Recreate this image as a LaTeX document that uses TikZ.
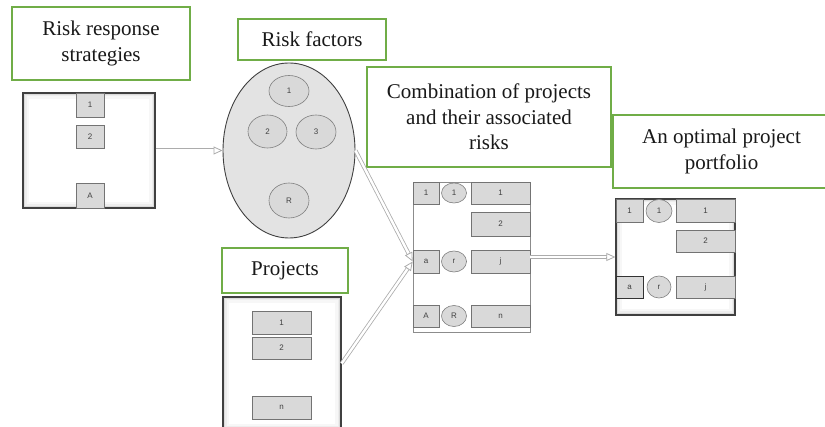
\documentclass[tikz,border=0pt]{standalone}
\usepackage{fontspec}
\setmainfont{Liberation Serif}
\newfontfamily\labfont{Liberation Sans}
\usetikzlibrary{arrows.meta,calc,shapes.geometric}
\definecolor{boxgreen}{HTML}{70AD47}
\newcommand\dblarr[2]{%
  \draw[shaft,shorten >=7pt] (#1) -- (#2);
  \draw[head] ($(#2)!9pt!(#1)$) -- (#2);}
\begin{document}
\begin{tikzpicture}[x=1pt,y=-1pt,
  title/.style={draw=boxgreen, line width=1.5pt, fill=white, align=center,
    font=\fontsize{21}{25.5}\selectfont, text=black!90, inner sep=0pt},
  panel/.style={draw=black!75, line width=1.3pt, fill=white, inner sep=0pt,
    path picture={
      \draw[gray!6,line width=12pt] (path picture bounding box.south west) rectangle (path picture bounding box.north east);
      \draw[gray!14,line width=7pt] (path picture bounding box.south west) rectangle (path picture bounding box.north east);
      \draw[gray!28,line width=4pt] (path picture bounding box.south west) rectangle (path picture bounding box.north east);
      \draw[gray!45,line width=2pt] (path picture bounding box.south west) rectangle (path picture bounding box.north east);}},
  lpanel/.style={draw=black!45, line width=0.8pt, fill=white, inner sep=0pt},
  sbox/.style={draw=black!55, fill=gray!30, line width=0.6pt, inner sep=0pt,
    font=\labfont\fontsize{8}{9}\selectfont, text=black!75},
  scirc/.style={ellipse, draw=black!50, fill=gray!30, line width=0.6pt, inner sep=0pt,
    font=\labfont\fontsize{8}{9}\selectfont, text=black!75},
  shaft/.style={draw=gray!65, double=white, double distance=2.4pt, line width=0.8pt},
  head/.style={draw=gray!65, line width=0.8pt, -{Triangle[open,fill=white,length=9pt,width=8pt]}}
]
\useasboundingbox (0,0) rectangle (825,427);
\clip (0,0) rectangle (825,427);

% titles
\node[title, minimum width=178pt, minimum height=73pt] (trrs) at (101,43.5) {Risk response\\strategies};
\node[title, minimum width=148pt, minimum height=41pt] (trf) at (312,39.5) {Risk factors};
\node[title, minimum width=244pt, minimum height=100pt] (tcmb) at (489,117) {Combination of projects\\and their associated\\risks};
\node[title, minimum width=217pt, minimum height=73pt] (topt) at (721.5,151.5) {An optimal project\\portfolio};
\node[title, minimum width=126pt, minimum height=45pt] (tprj) at (285,270.5) {Projects};

% risk response panel
\node[panel, minimum width=132pt, minimum height=115pt] (rrsP) at (89,150.5) {};
\node[sbox, minimum width=28pt, minimum height=24pt] (r1) at (90,105) {1};
\node[sbox, minimum width=28pt, minimum height=23pt] (r2) at (90,136.5) {2};
\node[sbox, minimum width=28pt, minimum height=25pt] (rA) at (90,195.5) {A};

% risk factors ellipse
\node[ellipse, draw=black!75, fill=gray!22, line width=0.9pt, minimum width=132pt, minimum height=175pt, inner sep=0pt] (rf) at (289,150.5) {};
\node[scirc, minimum width=40pt, minimum height=31pt] (f1) at (289,91) {1};
\node[scirc, minimum width=39pt, minimum height=33pt] (f2) at (267.5,131.5) {2};
\node[scirc, minimum width=40pt, minimum height=34pt] (f3) at (316,132) {3};
\node[scirc, minimum width=40pt, minimum height=35pt] (fR) at (289,200.5) {R};

% projects panel
\node[panel, minimum width=118pt, minimum height=133pt] (prjP) at (282,363.5) {};
\node[sbox, minimum width=59pt, minimum height=23pt] (p1) at (281.5,322.5) {1};
\node[sbox, minimum width=59pt, minimum height=22pt] (p2) at (281.5,348) {2};
\node[sbox, minimum width=59pt, minimum height=23pt] (pn) at (281.5,407.5) {n};

% combination panel
\node[lpanel, minimum width=117pt, minimum height=150pt] (cmbP) at (471.5,257) {};
\node[sbox, minimum width=26pt, minimum height=22pt] (c11) at (426,193) {1};
\node[scirc, minimum width=25pt, minimum height=20pt] (c12) at (454,193) {1};
\node[sbox, minimum width=59pt, minimum height=22pt] (c13) at (500.5,193) {1};
\node[sbox, minimum width=59pt, minimum height=24pt] (c23) at (500.5,224) {2};
\node[sbox, minimum width=26pt, minimum height=23pt] (ca) at (426,261.5) {a};
\node[scirc, minimum width=25pt, minimum height=21pt] (cr) at (454,261.5) {r};
\node[sbox, minimum width=59pt, minimum height=23pt] (cj) at (500.5,261.5) {j};
\node[sbox, minimum width=26pt, minimum height=22pt] (cA) at (426,316) {A};
\node[scirc, minimum width=25pt, minimum height=21pt] (cR) at (454,316) {R};
\node[sbox, minimum width=59pt, minimum height=22pt] (cn) at (500.5,316) {n};

% optimal panel
\node[panel, minimum width=119pt, minimum height=116pt] (optP) at (675.5,257) {};
\node[sbox, minimum width=27pt, minimum height=23pt] (o11) at (629.5,210.5) {1};
\node[scirc, minimum width=26pt, minimum height=23pt] (o12) at (659,211) {1};
\node[sbox, minimum width=59pt, minimum height=23pt] (o13) at (705.5,210.5) {1};
\node[sbox, minimum width=59pt, minimum height=22pt] (o23) at (705.5,241) {2};
\node[sbox, draw=black!80, minimum width=27pt, minimum height=22pt] (oa) at (629.5,287) {a};
\node[scirc, minimum width=24pt, minimum height=22pt] (or) at (659,287) {r};
\node[sbox, minimum width=59pt, minimum height=22pt] (oj) at (705.5,287) {j};

% connectors
\dblarr{rrsP.east}{rf.west}
\dblarr{rf.east}{ca.west}
\dblarr{prjP.east}{ca.west}
\dblarr{cmbP.east |- optP.west}{optP.west}
\end{tikzpicture}
\end{document}
